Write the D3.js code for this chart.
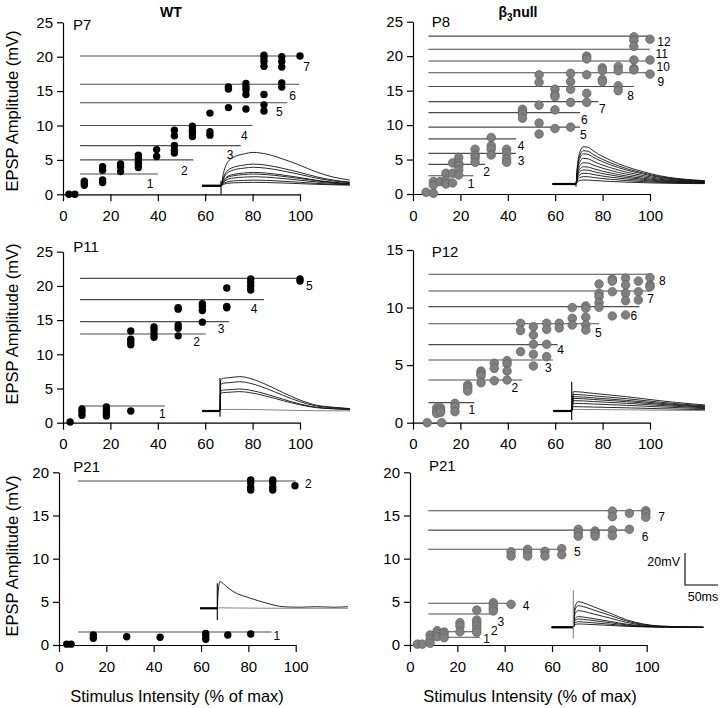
<!DOCTYPE html>
<html><head><meta charset="utf-8">
<script src="https://cdn.jsdelivr.net/npm/d3@7"></script>
<style>body{margin:0;background:#fff} svg{display:block}</style>
</head><body><svg id="c" width="720" height="708"></svg>
<script>
// ---------------- DATA ----------------
const xTicks = [0, 20, 40, 60, 80, 100];
const genotypes = ["WT", "β3null"];

// P7 (WT)
const p7X = [2.5,5, 9,9,9, 16.7,16.7,16.7,16.7, 24.3,24.3,24.3, 31.8,31.8,31.8,31.8,31.8, 39.5,39.5, 47,47,47,47,47, 54.6,54.6,54.6,54.6, 62,62,62, 69.8,69.8,69.8, 77.2,77.2,77.2,77.2,77.2, 84.8,84.8,84.8,84.8,84.8,84.8,84.8, 92.3,92.3,92.3,92.3,92.3, 100];
const p7Y = [0,0, 1.9,1.6,1.3, 4.0,3.5,2.1,1.7, 4.4,4.0,3.3, 5.7,5.2,4.7,4.4,3.9, 6.5,5.5, 9.3,8.5,7.1,6.4,6.0, 9.9,9.3,8.9,8.4, 11.8,9.1,8.6, 15.6,15.3,12.6, 16.1,15.6,15.2,14.5,12.4, 20.2,19.8,19.3,18.6,14.5,13.0,12.1, 20.0,19.3,18.5,16.2,15.6, 20.1];
const p7Levels = [20.1, 16.0, 13.3, 10.0, 7.07, 5.0, 2.95];
const p7Ends = [100, 99.7, 94.6, 79.9, 75, 55, 40];
const p7LineLabels = ["7","6","5","4","3","2","1"];
const p7LabelX = [102.8, 96.9, 91.3, 76.5, 70.5, 51.2, 36.7];
const p7LabelY = [18.55, 14.33, 12.0, 8.47, 5.71, 3.43, 1.45];
const p7TraceAmp = [20.8, 13.5, 11.5, 8.3, 7.3, 5.6, 3.5, 2.1];
const p7TraceT = [0, 3.5, 8.6, 18.7, 33.8, 49, 69, 94, 120, 145, 170, 195];
const p7TraceV = [0, .36, .66, .85, .95, 1, .95, .8, .61, .41, .26, .17];

// P8 (beta3 null)
const p8X = [5.5,8.6,8.6,8.6, 11.4, 13.9,13.9,13.9, 16.7,16.7,16.7, 19.3,19.3,19.3,19.3,19.3, 26.2,26.2,26.2,26.2, 33,33,33,33, 39.5,39.5,39.5,39.5, 46.2,46.2,46.2,46.2, 53.2,53.2,53.2,53.2,53.2, 59.9,59.9,59.9,59.9,59.9, 66.5,66.5,66.5,66.5,66.5, 73.3,73.3,73.3,73.3,73.3, 79.9,79.9,79.9,79.9, 86.6,86.6,86.6,86.6, 93.2,93.2,93.2,93.2,93.2,93.2, 100,100,100];
const p8Y = [0.25,0.1,1.8,1.3, 1.8, 3.0,2.0,1.45, 4.5,3.0,1.6, 5.3,4.45,4.1,3.5,2.75, 6.5,5.66,5.27,4.6, 8.2,7.0,6.5,5.66, 6.5,5.9,5.1,4.6, 12.3,11.95,11.6,11.0, 17.3,16.2,12.9,10.3,8.7, 15.2,14.4,14.1,12.2,9.5, 17.5,16.3,15.2,13.3,9.7, 20.0,19.6,17.3,14.6,13.3, 18.3,17.9,16.6,16.3, 18.5,17.9,15.7,15.0, 22.8,22.3,21.4,19.45,18.2,18.0, 22.45,19.45,17.4];
const p8Levels = [22.9, 21.0, 19.3, 17.6, 15.6, 13.4, 11.8, 9.7, 8.0, 5.9, 4.3, 2.65];
const p8Ends = [100, 100, 98.6, 100, 93.2, 78.2, 70.5, 70.5, 43.5, 43.5, 30.4, 25.5];
const p8LineLabels = ["12","11","10","9","8","7","6","5","4","3","2","1"];
const p8LabelX = [105.9, 104.9, 105.6, 104.6, 91.8, 79.9, 72.3, 71.9, 45.6, 45.6, 31.1, 24.5];
const p8LabelY = [22.1, 20.3, 18.4, 16.3, 14.27, 12.29, 10.74, 8.56, 7.01, 4.83, 3.15, 1.41];
const p8TraceAmp = [23.3, 20.8, 18.8, 16, 13.3, 10.8, 8.8, 6.7, 4.6, 2.5];
const p8TraceT = [0, 2, 6, 11, 19, 26, 52, 77, 102, 127, 153, 178, 195];
const p8TraceV = [0, .46, .87, 1, .98, .89, .64, .46, .33, .22, .15, .11, .09];

// P11 (WT)
const p11X = [3, 8,8,8, 18.3,18.3,18.3,18.3, 28.6,28.6,28.6,28.6,28.6, 38.4,38.4,38.4,38.4, 48.6,48.6,48.6,48.6,48.6, 58.8,58.8,58.8,58.8, 69.1,69.1,69.1, 79.2,79.2,79.2,79.2, 100,100];
const p11Y = [0.1, 2.0,1.6,1.1, 2.3,1.85,1.37,0.98, 13.4,12.2,11.8,11.4,1.7, 14.0,13.6,13.0,12.5, 16.8,16.6,14.3,13.8,12.7, 17.4,17.0,16.4,14.7, 19.7,17.0,16.8, 21.0,20.5,20.0,19.4, 21.0,20.7];
const p11Levels = [21.1, 18.0, 14.77, 12.97, 2.44];
const p11Ends = [100, 84.8, 70, 60.2, 43];
const p11LineLabels = ["5","4","3","2","1"];
const p11LabelX = [103.9, 80.6, 66.7, 56.4, 41.9];
const p11LabelY = [19.99, 16.62, 13.7, 11.75, 1.27];
const p11TraceAmp = [21.5, 18.3, 13.75, 12.1, 1.0];
const p11TraceT = [0, 1, 5, 15, 30, 45, 71, 96, 121, 146, 172, 197];
const p11TraceV = [0, .9, .95, .97, 1, .95, .76, .53, .32, .17, .11, .07];

// P12 (beta3 null)
const p12X = [6, 10,10,10, 11.6,11.6,11.6,12.1, 17.7,17.7,17.7, 23.1,23.1,23.1, 28.7,28.7,28.7,28.7, 34.3,34.3,34.3, 39.7,39.7,39.7,39.7, 45.4,45.4,45.4, 50.8,50.8,50.8,50.8,50.8, 56.4,56.4,56.4,56.4, 61.7,61.7, 67.2,67.2,67.2, 72.9,72.9,72.9,72.9,72.9, 78.5,78.5,78.5,78.5,78.5, 84.1,84.1,84.1,84.1, 89.7,89.7,89.7,89.7,89.7, 95.1,95.1,95.1, 100,100,100];
const p12Y = [0, 1.3,1.0,0.8, 1.3,1.1,0.9,0, 1.68,1.39,0.96, 3.27,3.04,2.75, 4.49,4.29,4.08,3.47, 5.16,4.72,3.65, 5.39,5.1,4.49,3.71, 8.64,8.0,6.17, 8.34,7.62,6.81,5.94,4.93, 8.64,8.11,6.81,5.74, 8.64,8.23, 10.0,9.07,8.49, 10.14,9.94,9.16,8.49,8.05, 12.05,11.24,10.95,10.43,10.03, 12.48,12.3,11.38,9.27, 12.55,11.96,11.24,10.6,9.36, 12.3,11.38,10.66, 12.6,11.96,11.8];
const p12Levels = [12.89, 11.44, 10.08, 8.6, 6.78, 5.45, 3.71, 1.74];
const p12Ends = [100, 100, 95.5, 78.6, 61, 59, 46.1, 25.9];
const p12LineLabels = ["8","7","6","5","4","3","2","1"];
const p12LabelX = [105.2, 100.3, 93.2, 78.2, 62.3, 57.1, 43.0, 24.8];
const p12LabelY = [12.31, 10.72, 9.3, 7.82, 6.32, 4.78, 2.99, 1.1];
const p12TraceAmp = [12.1, 10.4, 9.0, 7.9, 6.5, 4.8, 2.7, 1.0];
const p12TraceT = [0, 2.5, 33, 83, 134, 184, 202];
const p12TraceV = [0, 1, .91, .74, .53, .36, .31];

// P21 (WT)
const p21wX = [3.25,5.1, 14.5,14.5, 28.6, 42.7, 62,62,62, 71.3, 81, 81,81,81,81, 90.3,90.3,90.3,90.3, 99.7];
const p21wY = [0.1,0.1, 1.16,0.78, 0.96, 0.89, 1.35,1.04,0.66, 1.16, 1.27, 19.1,18.8,18.26,17.95, 19.1,18.8,18.26,17.95, 18.45];
const p21wLevels = [19.0, 1.5];
const p21wEnds = [100, 89.8];
const p21wLineLabels = ["2","1"];
const p21wLabelX = [105.3, 92];
const p21wLabelY = [18.6, 1.08];
const p21wTraceAmp = [16.7, 0.3];
const p21wTraceT = [0, 1, 4, 14, 24, 50, 75, 100, 125, 150, 176, 198];
const p21wTraceV = [0, .5, 1, .81, .63, .38, .19, .06, .04, .06, .04, .06];

// P21 (beta3 null)
const p21bX = [3.1,5.2, 8.5,8.5,8.5, 11.5,11.5,11.5, 14.4,14.4,14.4, 21.1,21.1,21.1, 28.2,28.2,28.2,28.2,28.2,28.2, 35.2,35.2,35.2,35.2, 42.7, 42.7,42.7, 49.7,49.7,49.7, 57,57, 64.1,64.1, 71.1,71.1,71.1, 78.2,78.2,78.2, 85.5,85.5,85.5,85.5, 92.7,92.7, 99.6,99.6,99.6];
const p21bY = [0.1,0.1, 1.16,0.66,0.2, 1.66,1.35,0.96, 1.5,1.2,0.85, 2.58,2.2,1.54, 4.05,2.9,2.58,2.2,1.8,1.47, 4.9,4.63,4.25,3.94, 4.71, 10.8,10.3, 11.08,10.7,10.3, 10.85,10.3, 11.16,10.46, 13.4,13.0,12.6, 13.2,12.9,12.6, 15.5,14.86,13.3,12.66, 15.25,13.4, 15.55,15.25,14.8];
const p21bLevels = [15.55, 13.3, 11.08, 4.83, 3.59, 1.54, 0.89];
const p21bEnds = [100, 93, 64.3, 42.7, 35.2, 28.9, 29.6];
const p21bLineLabels = ["7","6","5","4","3","2","1"];
const p21bLabelX = [106.3, 99.3, 70.7, 49.0, 38.4, 35.6, 32.4];
const p21bLabelY = [14.85, 12.54, 10.77, 4.52, 2.7, 1.62, 0.69];
const p21bTraceAmp = [16, 13.5, 10.4, 6.7, 5.2, 3.5, 2.1];
const p21bTraceT = [0, 2.5, 7.6, 15, 30, 56, 81, 106, 131, 182, 197];
const p21bTraceV = [0, .81, 1, .96, .81, .55, .29, .13, .05, .01, 0];

const scaleBarMV = 20, scaleBarMS = 50;

// ---------------- LAYOUT ----------------
const FONT = '"Liberation Sans", Arial, Helvetica, sans-serif';
const svg = d3.select('#c').style('font-family', FONT);

const panels = [
  {name:'P7', xs:p7X, ys:p7Y, lv:p7Levels, le:p7Ends, ll:p7LineLabels, lx:p7LabelX, ly:p7LabelY, start:7.2,
   amp:p7TraceAmp, tt:p7TraceT, tv:p7TraceV, pre:-28.8, art:[-5.2,2.9],
   xr:[63,300], yr:[194.3,22.3], yMax:25, yStep:5, geno:0, lab:[73,30], stim:221, base:185.7},
  {name:'P8', xs:p8X, ys:p8Y, lv:p8Levels, le:p8Ends, ll:p8LineLabels, lx:p8LabelX, ly:p8LabelY, start:6.5,
   amp:p8TraceAmp, tt:p8TraceT, tv:p8TraceV, pre:-35.3, art:[-1.5,0],
   xr:[413,650], yr:[194,21.7], yMax:25, yStep:5, geno:1, lab:[431.7,27.3], stim:576, base:184},
  {name:'P11', xs:p11X, ys:p11Y, lv:p11Levels, le:p11Ends, ll:p11LineLabels, lx:p11LabelX, ly:p11LabelY, start:7.2,
   amp:p11TraceAmp, tt:p11TraceT, tv:p11TraceV, pre:-26.8, art:[-3.6,20.6],
   xr:[63,300], yr:[422.7,251.7], yMax:25, yStep:5, geno:0, lab:[73.3,251.7], stim:220, base:411},
  {name:'P12', xs:p12X, ys:p12Y, lv:p12Levels, le:p12Ends, ll:p12LineLabels, lx:p12LabelX, ly:p12LabelY, start:6.5,
   amp:p12TraceAmp, tt:p12TraceT, tv:p12TraceV, pre:-27.9, art:[-5.6,18.3],
   xr:[413,650], yr:[422.7,250], yMax:15, yStep:5, geno:1, lab:[431.7,257.3], stim:571.7, base:411},
  {name:'P21', xs:p21wX, ys:p21wY, lv:p21wLevels, le:p21wEnds, ll:p21wLineLabels, lx:p21wLabelX, ly:p21wLabelY, start:8.0,
   amp:p21wTraceAmp, tt:p21wTraceT, tv:p21wTraceV, pre:-26.2, art:[-7.3,15.6],
   xr:[59,295.7], yr:[645,472.3], yMax:20, yStep:5, geno:0, lab:[73.3,472.3], stim:217.3, base:608.3},
  {name:'P21', xs:p21bX, ys:p21bY, lv:p21bLevels, le:p21bEnds, ll:p21bLineLabels, lx:p21bLabelX, ly:p21bLabelY, start:7.7,
   amp:p21bTraceAmp, tt:p21bTraceT, tv:p21bTraceV, pre:-32.7, art:[-6.9,23.3], artColor:'#888',
   xr:[410,646.7], yr:[645,472.3], yMax:20, yStep:5, geno:1, lab:[429,470.7], stim:573.3, base:627.3}
];

const MS_PX = 33/50, MV_PX = 32/20;

panels.forEach(p => {
  const g = svg.append('g');
  const x = d3.scaleLinear().domain([0,100]).range(p.xr);
  const y = d3.scaleLinear().domain([0,p.yMax]).range(p.yr);

  // axes
  const ax = g.append('g').attr('transform',`translate(0,${p.yr[0]})`)
    .call(d3.axisBottom(x).tickValues(xTicks).tickSize(7).tickPadding(9).tickSizeOuter(0));
  const ay = g.append('g').attr('transform',`translate(${p.xr[0]},0)`)
    .call(d3.axisLeft(y).tickValues(d3.range(0,p.yMax+0.01,p.yStep)).tickSize(6).tickPadding(4).tickSizeOuter(0));
  [ax,ay].forEach(a => {
    a.attr('font-family',FONT).attr('font-size',15);
    a.selectAll('path,line').attr('stroke','#000').attr('stroke-width',1.2);
    a.selectAll('text').attr('fill','#000');
  });

  // traces inset
  const tx = d3.scaleLinear().domain([0,50]).range([p.stim, p.stim + 50*MS_PX]);
  const ty = d3.scaleLinear().domain([0,20]).range([p.base, p.base - 20*MV_PX]);
  const tg = g.append('g');
  const line = d3.line().x(d=>tx(d[0])).y(d=>ty(d[1])).curve(d3.curveMonotoneX);
  p.amp.forEach((a,i) => {
    const pts = [[p.pre,0]].concat(p.tt.map((t,k)=>[t, a*p.tv[k]]));
    tg.append('path').attr('d', line(pts)).attr('fill','none')
      .attr('stroke', a < 1.2 ? '#777' : '#111').attr('stroke-width',0.9);
  });
  tg.append('path').attr('d', line([[p.pre,0],[0,0]])).attr('stroke','#000').attr('stroke-width',2.2);
  tg.append('line').attr('x1',tx(0)).attr('x2',tx(0)).attr('y1',ty(p.art[0])).attr('y2',ty(p.art[1]))
    .attr('stroke', p.artColor || '#000').attr('stroke-width',1.1);

  // horizontal lines
  p.lv.forEach((v,i) => {
    g.append('line').attr('x1',x(p.start)).attr('x2',x(p.le[i])).attr('y1',y(v)).attr('y2',y(v))
      .attr('stroke','#4d4d4d').attr('stroke-width',1.1);
    g.append('text').attr('x',x(p.lx[i])).attr('y',y(p.ly[i])).attr('text-anchor','middle')
      .attr('dominant-baseline','central').attr('font-size',12).attr('fill','#000').text(p.ll[i]);
  });

  // dots
  p.xs.forEach((xv,i) => {
    const c = g.append('circle').attr('cx',x(xv)).attr('cy',y(p.ys[i]));
    if (p.geno === 0) c.attr('r',3.7).attr('fill','#000');
    else c.attr('r',4.3).attr('fill','#808080').attr('stroke','#5e5e5e').attr('stroke-width',0.7);
  });

  // panel label
  g.append('text').attr('x',p.lab[0]).attr('y',p.lab[1]).attr('font-size',15).attr('fill','#000').text(p.name);
});

// column headers
svg.append('text').attr('x',171).attr('y',17).attr('text-anchor','middle').attr('font-size',14)
  .attr('font-weight','bold').text(genotypes[0]);
const h2 = svg.append('text').attr('x',518).attr('y',17).attr('text-anchor','middle').attr('font-size',14).attr('font-weight','bold');
h2.append('tspan').text('β');
h2.append('tspan').attr('font-size',10).attr('dy',4).text('3');
h2.append('tspan').attr('dy',-4).text('null');

// axis titles
[111, 324, 556].forEach(cy => {
  svg.append('text').attr('transform',`translate(17.5,${cy}) rotate(-90)`).attr('text-anchor','middle')
    .attr('font-size',16.5).attr('fill','#000').text('EPSP Amplitude (mV)');
});
[177, 530].forEach(cx => {
  svg.append('text').attr('x',cx).attr('y',702).attr('text-anchor','middle')
    .attr('font-size',16.5).attr('fill','#000').text('Stimulus Intensity (% of max)');
});

// scale bar
const sbx = d3.scaleLinear().domain([0,scaleBarMS]).range([685, 685 + scaleBarMS*MS_PX]);
const sby = d3.scaleLinear().domain([0,scaleBarMV]).range([585, 585 - scaleBarMV*MV_PX]);
svg.append('path').attr('d', d3.line()([[sbx(0),sby(scaleBarMV)],[sbx(0),sby(0)],[sbx(scaleBarMS),sby(0)]]))
  .attr('fill','none').attr('stroke','#000').attr('stroke-width',1.1);
svg.append('text').attr('x',680).attr('y',566).attr('text-anchor','end').attr('font-size',12.5).text(scaleBarMV+'mV');
svg.append('text').attr('x',703).attr('y',601).attr('text-anchor','middle').attr('font-size',12.5).text(scaleBarMS+'ms');
</script></body></html>
